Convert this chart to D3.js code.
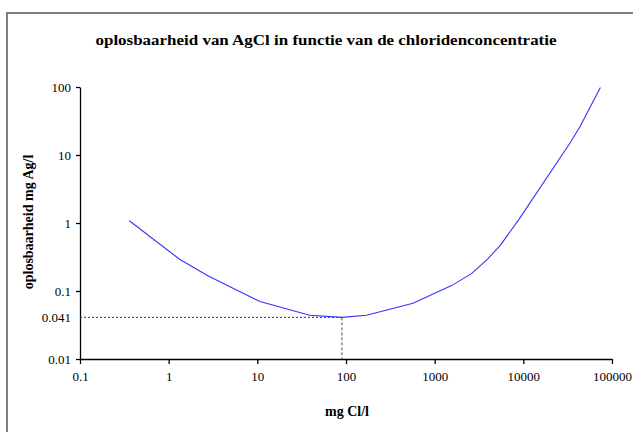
<!DOCTYPE html>
<html>
<head>
<meta charset="utf-8">
<script src="https://cdn.jsdelivr.net/npm/d3@7"></script>
<style>
  body { margin: 0; background: #fff; }
  svg { display: block; }
</style>
</head>
<body>
<svg id="chart" width="633" height="432"></svg>
<script>
// chloride concentration (mg Cl/l) and solubility (mg Ag/l)
const chloride = [0.36, 1.34, 2.8, 10.7, 39, 90, 170, 570, 1550, 2600, 3900, 5500, 9000, 33600, 43500, 74000];
const solubility = [1.08, 0.29, 0.166, 0.07, 0.044, 0.041, 0.044, 0.066, 0.12, 0.18, 0.29, 0.47, 1.15, 15, 26, 98];
const xTicks = [0.1, 1, 10, 100, 1000, 10000, 100000];
const yTicks = [0.01, 0.1, 1, 10, 100];
const minimum = { x: 90, y: 0.041 };

const serif = '"Liberation Serif", "Times New Roman", Times, serif';
const svg = d3.select('#chart');

// outer frame (runs off the right and bottom edges)
svg.append('rect')
    .attr('x', 7).attr('y', 13)
    .attr('width', 700).attr('height', 500)
    .attr('fill', 'none')
    .attr('stroke', '#808080')
    .attr('stroke-width', 2);

const x = d3.scaleLog().domain([0.1, 100000]).range([80, 612]);
const y = d3.scaleLog().domain([0.01, 100]).range([359, 87]);

// title
svg.append('text')
    .attr('x', 326).attr('y', 45)
    .attr('text-anchor', 'middle')
    .style('font-family', serif)
    .attr('font-weight', 'bold')
    .attr('font-size', 15.5)
    .attr('textLength', 461)
    .attr('lengthAdjust', 'spacingAndGlyphs')
    .text('oplosbaarheid van AgCl in functie van de chloridenconcentratie');

// axes
const xAxis = svg.append('g')
    .attr('transform', `translate(0,${y(0.01)})`)
    .call(d3.axisBottom(x).tickValues(xTicks).tickSize(5).tickSizeOuter(0)
        .tickFormat(d => d3.format('~f')(d)));

const yAxis = svg.append('g')
    .attr('transform', `translate(${x(0.1)},0)`)
    .call(d3.axisLeft(y).tickValues(yTicks.concat([minimum.y])).tickSize(4).tickSizeOuter(0)
        .tickFormat(d => d3.format('~f')(d)));

[xAxis, yAxis].forEach(g => {
    g.attr('font-family', null);
    g.select('.domain').attr('stroke', '#000').attr('stroke-width', 1.3);
    g.selectAll('.tick line').attr('stroke', '#000').attr('stroke-width', 1.3);
    g.selectAll('.tick text')
        .style('font-family', serif)
        .attr('font-size', 13)
        .attr('fill', '#000');
});
xAxis.selectAll('.tick text').attr('dy', '1.1em');
yAxis.selectAll('.tick text').attr('x', -9);
// the 0.041 mark has a label only, no tick
yAxis.selectAll('.tick').filter(d => d === minimum.y).select('line').remove();

// guide lines to the minimum
svg.append('line')
    .attr('x1', x(0.1)).attr('x2', x(minimum.x))
    .attr('y1', y(minimum.y)).attr('y2', y(minimum.y))
    .attr('stroke', '#333')
    .attr('stroke-width', 1)
    .attr('stroke-dasharray', '2,2');

svg.append('line')
    .attr('x1', x(minimum.x)).attr('x2', x(minimum.x))
    .attr('y1', y(minimum.y)).attr('y2', y(0.01))
    .attr('stroke', '#555533')
    .attr('stroke-width', 1)
    .attr('stroke-dasharray', '3,2');

// the curve
const pts = chloride.map((c, i) => [c, solubility[i]]);
svg.append('path')
    .datum(pts)
    .attr('fill', 'none')
    .attr('stroke', '#3333ff')
    .attr('stroke-width', 1.1)
    .attr('d', d3.line().x(d => x(d[0])).y(d => y(d[1])));

// axis titles
svg.append('text')
    .attr('transform', 'translate(33,222) rotate(-90)')
    .attr('text-anchor', 'middle')
    .style('font-family', serif)
    .attr('font-weight', 'bold')
    .attr('font-size', 14)
    .text('oplosbaarheid mg Ag/l');

svg.append('text')
    .attr('x', 347).attr('y', 416)
    .attr('text-anchor', 'middle')
    .style('font-family', serif)
    .attr('font-weight', 'bold')
    .attr('font-size', 14)
    .text('mg Cl/l');
</script>
</body>
</html>
